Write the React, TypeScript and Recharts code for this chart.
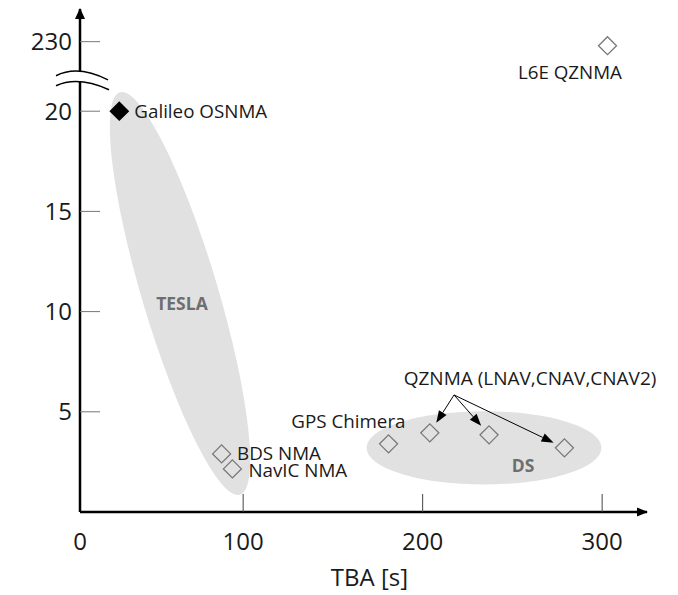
import React from 'react';
import { ScatterChart, Scatter, XAxis, YAxis, ReferenceDot } from 'recharts';

// schemes, TBA in seconds and the y value of each point
const systems = ['Galileo OSNMA', 'BDS NMA', 'NavIC NMA', 'GPS Chimera', 'QZNMA LNAV', 'QZNMA CNAV', 'QZNMA CNAV2', 'L6E QZNMA'];
const tba = [31, 88, 94, 181, 204, 237, 279, 303];
const yValues = [20, 2.9, 2.15, 3.4, 3.95, 3.85, 3.2, 228];
const solid = [true, false, false, false, false, false, false, false];
const pointLabels = ['Galileo OSNMA', 'BDS NMA', 'NavIC NMA', 'GPS Chimera', '', '', '', 'L6E QZNMA'];

// shaded groups
const groups = ['TESLA', 'DS'];
const groupTba = [64.8, 234.2];
const groupY = [10.9, 3.2];

// shared annotation for the three QZNMA points
const qzLabel = 'QZNMA (LNAV,CNAV,CNAV2)';
const qzLabelAt = { x: 217.5, y: 5.84 };
const qzTargets = ['QZNMA LNAV', 'QZNMA CNAV', 'QZNMA CNAV2'];

const xTicks = [100, 200, 300];
const yTicks = [5, 10, 15, 20];

// axis break: values above 100 are drawn above the break
const X_MIN = 9.1;
const X_MAX = 325;
const Y_MAX = 25.1;
const BREAK_Y = 21.62;
const TOP_TICK = 230;
const TOP_Y = 23.47;
const toY = (v: number) => (v > 100 ? TOP_Y + (v - TOP_TICK) / 10 : v);

const FONT = "'Open Sans', 'Noto Sans', sans-serif";
const INK = '#1a1a1a';

const points = systems.map((name, i) => ({ name, x: tba[i], y: toY(yValues[i]), label: pointLabels[i], solid: solid[i] }));
const groupRows = groups.map((name, i) => ({ name, x: groupTba[i], y: groupY[i] }));
const arrowRows = qzTargets.map((name, k) => {
  const i = systems.indexOf(name);
  return [
    { x: qzLabelAt.x, y: qzLabelAt.y, text: k === 0 ? qzLabel : '' },
    { x: tba[i], y: toY(yValues[i]), text: '' },
  ];
});

const labelPlace: Record<string, { dx: number; dy: number; anchor: string }> = {
  'Galileo OSNMA': { dx: 15, dy: 0, anchor: 'start' },
  'BDS NMA': { dx: 15.5, dy: 0, anchor: 'start' },
  'NavIC NMA': { dx: 16, dy: 1.5, anchor: 'start' },
  'GPS Chimera': { dx: 17, dy: -22, anchor: 'end' },
  'L6E QZNMA': { dx: 14.5, dy: 27, anchor: 'end' },
};

const groupShape: Record<string, { rx: number; ry: number; rot: number; lx: number; ly: number }> = {
  TESLA: { rx: 210, ry: 38, rot: 73.4, lx: 2, ly: 10 },
  DS: { rx: 117.5, ry: 36.7, rot: 0, lx: 39, ly: 18 },
};

const Diamond = (props: any) => {
  const { cx, cy, payload } = props;
  const s = 9;
  const place = labelPlace[payload.label];
  return (
    <g>
      <path
        d={`M${cx},${cy - s} L${cx + s},${cy} L${cx},${cy + s} L${cx - s},${cy} Z`}
        fill={payload.solid ? '#000' : 'none'}
        stroke={payload.solid ? '#000' : '#777'}
        strokeWidth={1.3}
      />
      {place && (
        <text x={cx + place.dx} y={cy + place.dy} dy="0.35em" textAnchor={place.anchor as any} fontSize={18.8} fontFamily={FONT} fill={INK}>
          {payload.label}
        </text>
      )}
    </g>
  );
};

const GroupEllipse = (props: any) => {
  const { cx, cy, payload } = props;
  const g = groupShape[payload.name];
  return (
    <g>
      <ellipse cx={cx} cy={cy} rx={g.rx} ry={g.ry} transform={`rotate(${g.rot} ${cx} ${cy})`} fill="#e1e1e1" />
      <text x={cx + g.lx} y={cy + g.ly} dy="0.35em" textAnchor="middle" fontSize={17.5} fontWeight="bold" fontFamily={FONT} fill="#6e6e6e">
        {payload.name}
      </text>
    </g>
  );
};

// arrow from the annotation to a point, drawn as the series' line
const ArrowLine = (props: any) => {
  const pts = props.points;
  if (!pts || pts.length < 2) return null;
  const { x: x1, y: y1 } = pts[0];
  const { x: x2, y: y2 } = pts[1];
  const dx = x2 - x1;
  const dy = y2 - y1;
  const len = Math.sqrt(dx * dx + dy * dy);
  const ux = dx / len;
  const uy = dy / len;
  const tipX = x2 - ux * 12;
  const tipY = y2 - uy * 12;
  const head = 12;
  const half = 4.5;
  const bx = tipX - ux * head;
  const by = tipY - uy * head;
  return (
    <g>
      <line x1={x1} y1={y1} x2={bx} y2={by} stroke="#000" strokeWidth={1} />
      <path d={`M${tipX},${tipY} L${bx - uy * half},${by + ux * half} L${bx + uy * half},${by - ux * half} Z`} fill="#000" />
    </g>
  );
};

const ArrowEnd = (props: any) => {
  const { cx, cy, payload } = props;
  if (!payload.text) return <g />;
  return (
    <text x={cx + 76} y={cy - 17} dy="0.35em" textAnchor="middle" fontSize={19} fontFamily={FONT} fill={INK}>
      {payload.text}
    </text>
  );
};

const YTick = (props: any) => {
  const { x, y, payload } = props;
  const v = payload.value;
  if (v === BREAK_Y) {
    const upper = `M${x - 24},${y - 3} Q${x - 2},${y - 14.1} ${x + 28},${y + 1.2}`;
    const lower = `M${x - 24},${y + 7} Q${x - 2},${y - 3} ${x + 29},${y + 11}`;
    const fillPath = `${upper} L${x + 29},${y + 11} Q${x - 2},${y - 3} ${x - 24},${y + 7} Z`;
    return (
      <g>
        <path d={fillPath} fill="#fff" stroke="none" />
        <path d={upper} fill="none" stroke="#000" strokeWidth={1.5} />
        <path d={lower} fill="none" stroke="#000" strokeWidth={1.5} />
      </g>
    );
  }
  const text = v === TOP_Y ? String(TOP_TICK) : String(v);
  return (
    <g>
      <line x1={x} x2={x + 20} y1={y} y2={y} stroke="#777" strokeWidth={1} />
      <text x={x - 8} y={y} dy="0.35em" textAnchor="end" fontSize={24} fontFamily={FONT} fill={INK}>
        {text}
      </text>
    </g>
  );
};

const XTick = (props: any) => {
  const { x, y, payload } = props;
  const v = payload.value;
  return (
    <g>
      {v !== X_MIN && <line x1={x} x2={x} y1={y} y2={y - 18} stroke="#444" strokeWidth={1} />}
      <text x={x} y={y + 30} dy="0.35em" textAnchor="middle" fontSize={24} fontFamily={FONT} fill={INK}>
        {v === X_MIN ? '0' : String(v)}
      </text>
    </g>
  );
};

const App: React.FC = () => {
  return (
    <div style={{ width: 670, height: 587, fontFamily: FONT }}>
      <ScatterChart width={670} height={587} margin={{ top: 1, right: 31, bottom: 0, left: 0 }}>
        <XAxis
          type="number"
          dataKey="x"
          domain={[X_MIN, X_MAX]}
          ticks={[X_MIN, ...xTicks]}
          interval={0}
          height={83}
          tickSize={0}
          tickMargin={0}
          tickLine={false}
          tick={<XTick />}
          axisLine={{ stroke: '#000', strokeWidth: 2.5 }}
          label={{
            content: (p: any) => (
              <text x={p.viewBox.x + p.viewBox.width / 2 + 6} y={p.viewBox.y + 66} dy="0.35em" textAnchor="middle" fontSize={24} fontFamily={FONT} fill={INK}>
                TBA [s]
              </text>
            ),
          }}
        />
        <YAxis
          type="number"
          dataKey="y"
          domain={[0, Y_MAX]}
          ticks={[...yTicks, BREAK_Y, TOP_Y]}
          interval={0}
          width={72}
          tickSize={0}
          tickMargin={0}
          tickLine={false}
          tick={<YTick />}
          axisLine={{ stroke: '#000', strokeWidth: 2.5 }}
        />
        <Scatter data={groupRows} shape={<GroupEllipse />} isAnimationActive={false} />
        {arrowRows.map((rows, k) => (
          <Scatter key={k} data={rows} line={<ArrowLine />} shape={<ArrowEnd />} isAnimationActive={false} />
        ))}
        <Scatter data={points} shape={<Diamond />} isAnimationActive={false} />
        <ReferenceDot
          x={X_MAX}
          y={0}
          shape={(p: any) => <path d={`M${p.cx + 1},${p.cy} l-11,-4.5 l0,9 Z`} fill="#000" />}
        />
        <ReferenceDot
          x={X_MIN}
          y={Y_MAX}
          shape={(p: any) => <path d={`M${p.cx},${p.cy - 1} l-5,11 l10,0 Z`} fill="#000" />}
        />
      </ScatterChart>
    </div>
  );
};

export default App;
